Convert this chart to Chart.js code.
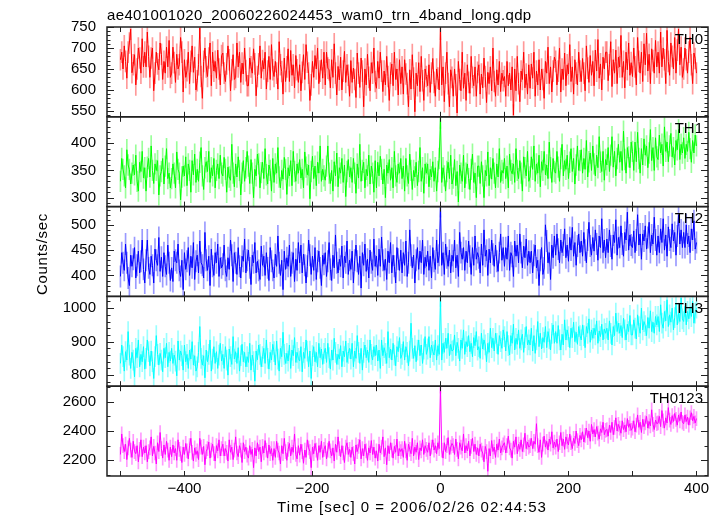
<!DOCTYPE html>
<html>
<head>
<meta charset="utf-8">
<script src="https://cdn.jsdelivr.net/npm/chart.js@4.4.0/dist/chart.umd.min.js"></script>
<style>
    html, body { margin: 0; padding: 0; background: #fff; }
    #wrap { position: relative; width: 723px; height: 516px; }
</style>
</head>
<body>
<div id="wrap"><canvas id="lc" width="723" height="516"></canvas></div>
<script>
// WAM light curve, one sample every 2 s from -500 s to +400 s
const tStart = -500;
const tStep = 2;

const th0 = [
    672, 690, 650, 705, 668, 628, 690, 712, 745, 641, 660, 684, 612, 650, 700, 676, 640, 722, 655, 690,
    655, 738, 680, 630, 676, 700, 598, 640, 690, 662, 648, 712, 685, 625, 668, 640, 702, 655, 718, 630,
    640, 702, 665, 618, 685, 650, 660, 725, 690, 595, 672, 630, 646, 690, 615, 668, 705, 642, 678, 600,
    622, 660, 748, 632, 580, 668, 700, 655, 632, 676, 712, 610, 690, 645, 668, 628, 695, 650, 612, 682,
    688, 640, 620, 662, 705, 672, 598, 648, 684, 625, 630, 712, 655, 690, 618, 664, 638, 700, 646, 610,
    610, 676, 655, 640, 698, 662, 586, 632, 662, 705, 628, 670, 650, 690, 602, 645, 680, 625, 708, 648,
    632, 668, 640, 602, 715, 660, 644, 590, 676, 620, 655, 698, 620, 694, 635, 660, 605, 682, 648, 618,
    660, 598, 642, 684, 625, 708, 666, 640, 575, 612, 668, 630, 682, 650, 700, 615, 645, 672, 628, 690,
    612, 690, 652, 648, 605, 672, 630, 710, 640, 588, 656, 624, 678, 600, 645, 692, 618, 660, 635, 585,
    670, 618, 652, 625, 582, 688, 640, 606, 676, 645, 560, 650, 612, 685, 630, 598, 665, 640, 700, 620,
    604, 668, 628, 690, 645, 596, 645, 612, 680, 632, 575, 640, 662, 610, 690, 625, 650, 588, 672, 615,
    655, 590, 672, 638, 615, 560, 648, 602, 684, 628, 548, 640, 610, 665, 596, 680, 622, 575, 650, 632,
    610, 660, 594, 640, 675, 618, 585, 650, 628, 600, 745, 612, 655, 572, 640, 690, 615, 560, 648, 630,
    585, 650, 612, 545, 668, 625, 598, 690, 604, 640, 575, 660, 618, 592, 680, 630, 610, 655, 585, 642,
    660, 590, 638, 605, 676, 632, 570, 642, 615, 655, 598, 700, 620, 585, 648, 612, 668, 596, 640, 622,
    632, 585, 668, 610, 640, 600, 655, 540, 650, 598, 680, 615, 572, 645, 625, 690, 605, 638, 590, 660,
    604, 662, 628, 690, 585, 645, 612, 672, 600, 650, 625, 580, 668, 640, 702, 615, 655, 595, 645, 678,
    668, 612, 645, 700, 595, 650, 625, 688, 610, 660, 638, 708, 620, 655, 590, 672, 640, 612, 690, 645,
    620, 675, 640, 598, 705, 652, 618, 682, 635, 668, 610, 695, 645, 720, 628, 662, 600, 678, 650, 690,
    690, 622, 660, 715, 608, 672, 640, 695, 615, 678, 655, 730, 630, 668, 605, 690, 648, 712, 635, 665,
    632, 700, 655, 612, 725, 668, 640, 690, 620, 710, 660, 735, 645, 685, 615, 698, 670, 640, 718, 655,
    690, 640, 738, 655, 700, 672, 615, 742, 668, 635, 712, 680, 650, 725, 640, 695, 745, 660, 702, 630,
    650, 700, 672, 640, 690, 725, 660, 615, 688, 675, 640
];

const th1 = [
    330, 372, 352, 340, 318, 388, 360, 352, 325, 345, 360, 342, 378, 330, 312, 365, 348, 385, 336, 355,
    312, 356, 372, 338, 395, 350, 326, 362, 350, 368, 305, 340, 348, 372, 325, 358, 390, 335, 345, 318,
    335, 362, 345, 318, 384, 352, 345, 296, 338, 358, 340, 375, 322, 362, 350, 310, 368, 342, 380, 328,
    352, 330, 365, 392, 340, 315, 355, 366, 348, 385, 328, 355, 340, 372, 318, 350, 362, 335, 378, 345,
    340, 374, 352, 310, 356, 338, 332, 398, 345, 320, 362, 338, 375, 350, 305, 345, 368, 330, 355, 385,
    358, 326, 370, 345, 300, 352, 340, 380, 362, 318, 346, 365, 335, 390, 342, 325, 360, 350, 312, 372,
    328, 362, 345, 392, 338, 318, 350, 334, 374, 352, 306, 355, 340, 368, 322, 385, 348, 330, 362, 345,
    370, 336, 352, 318, 384, 356, 342, 360, 298, 348, 376, 335, 358, 322, 365, 345, 395, 330, 352, 340,
    332, 358, 395, 345, 326, 350, 312, 366, 340, 382, 320, 355, 345, 372, 328, 360, 302, 348, 370, 338,
    355, 328, 372, 345, 308, 362, 336, 398, 330, 350, 365, 318, 352, 340, 378, 325, 358, 345, 310, 368,
    318, 365, 340, 376, 352, 325, 352, 300, 360, 345, 370, 332, 355, 318, 385, 340, 328, 362, 345, 372,
    335, 358, 312, 372, 340, 326, 380, 350, 315, 350, 338, 365, 322, 348, 392, 330, 355, 308, 362, 345,
    362, 320, 352, 338, 366, 330, 355, 312, 348, 372, 446, 328, 355, 340, 312, 348, 365, 335, 378, 325,
    336, 370, 322, 348, 292, 360, 345, 330, 378, 318, 345, 362, 335, 315, 352, 380, 328, 345, 300, 358,
    358, 326, 366, 340, 300, 350, 340, 384, 322, 355, 334, 372, 345, 318, 362, 338, 390, 328, 350, 345,
    372, 335, 358, 318, 380, 350, 344, 362, 328, 390, 350, 335, 368, 345, 312, 375, 355, 340, 385, 330,
    338, 375, 352, 395, 330, 362, 345, 378, 320, 366, 350, 385, 342, 360, 335, 402, 355, 328, 372, 348,
    345, 385, 356, 330, 372, 398, 340, 368, 352, 378, 335, 365, 390, 348, 372, 325, 360, 395, 350, 368,
    388, 345, 372, 352, 405, 338, 366, 382, 350, 395, 362, 340, 378, 355, 412, 365, 348, 385, 332, 370,
    360, 392, 348, 378, 412, 356, 385, 340, 372, 398, 365, 385, 350, 422, 370, 345, 392, 375, 355, 402,
    385, 350, 402, 366, 420, 372, 345, 390, 360, 408, 378, 395, 355, 382, 425, 368, 392, 350, 410, 375,
    370, 415, 382, 398, 358, 430, 385, 402, 366, 395, 418, 375, 392, 360, 405, 388, 425, 370, 398, 382,
    410, 372, 398, 385, 420, 390, 365, 405, 382, 415, 395
];

const th2 = [
    398, 445, 425, 410, 462, 425, 395, 380, 440, 418, 432, 455, 395, 420, 448, 405, 428, 470, 412, 385,
    430, 470, 415, 402, 438, 420, 385, 452, 430, 420, 475, 408, 436, 398, 445, 418, 402, 460, 425, 390,
    415, 388, 448, 430, 425, 462, 410, 398, 430, 372, 445, 412, 428, 455, 400, 438, 415, 465, 392, 428,
    440, 405, 468, 425, 420, 395, 485, 430, 410, 438, 380, 452, 418, 400, 445, 425, 462, 398, 435, 415,
    422, 460, 410, 398, 435, 412, 470, 440, 388, 445, 425, 402, 455, 418, 395, 438, 428, 472, 405, 430,
    450, 415, 382, 440, 425, 465, 405, 428, 410, 392, 458, 420, 438, 400, 445, 415, 390, 455, 428, 410,
    395, 442, 418, 478, 425, 400, 430, 372, 448, 412, 435, 418, 460, 398, 425, 445, 388, 432, 410, 465,
    425, 460, 405, 442, 420, 385, 418, 470, 440, 402, 438, 410, 455, 392, 428, 448, 415, 380, 440, 422,
    445, 398, 428, 465, 412, 390, 440, 415, 480, 425, 405, 432, 418, 458, 395, 438, 425, 468, 402, 430,
    412, 448, 385, 430, 460, 428, 402, 438, 375, 445, 420, 462, 408, 432, 395, 450, 425, 410, 472, 418,
    438, 400, 452, 418, 476, 430, 410, 432, 392, 448, 425, 465, 405, 440, 418, 385, 455, 432, 410, 450,
    405, 445, 420, 468, 398, 425, 490, 440, 415, 440, 385, 430, 455, 412, 448, 425, 470, 402, 436, 418,
    448, 410, 438, 395, 455, 428, 412, 470, 425, 440, 536, 420, 445, 402, 462, 435, 418, 450, 405, 440,
    428, 470, 415, 440, 398, 485, 445, 432, 455, 410, 448, 425, 468, 438, 402, 455, 420, 478, 432, 445,
    435, 405, 462, 420, 490, 438, 450, 400, 452, 425, 470, 442, 418, 460, 428, 408, 445, 482, 430, 455,
    418, 455, 432, 478, 410, 445, 438, 398, 468, 438, 460, 425, 482, 445, 415, 458, 435, 472, 420, 448,
    425, 448, 405, 440, 460, 415, 430, 380, 430, 455, 402, 415, 500, 468, 425, 445, 392, 460, 435, 478,
    440, 482, 452, 425, 470, 445, 460, 492, 435, 460, 428, 475, 450, 495, 438, 465, 420, 458, 482, 445,
    468, 438, 485, 450, 425, 470, 505, 458, 440, 475, 448, 490, 462, 430, 478, 455, 512, 445, 470, 435,
    472, 445, 490, 458, 432, 480, 465, 510, 440, 475, 455, 498, 462, 438, 485, 470, 525, 450, 480, 460,
    455, 488, 445, 470, 520, 460, 482, 432, 482, 468, 498, 452, 475, 505, 445, 480, 462, 515, 470, 440,
    478, 445, 492, 465, 512, 450, 480, 438, 496, 470, 455, 502, 468, 485, 440, 478, 520, 462, 490, 455,
    485, 455, 500, 462, 478, 445, 492, 470, 508, 452, 465
];

const th3 = [
    835, 890, 855, 812, 870, 845, 930, 860, 820, 868, 845, 795, 880, 852, 905, 825, 862, 840, 885, 818,
    850, 905, 870, 828, 872, 840, 790, 855, 918, 862, 830, 865, 845, 810, 880, 852, 895, 825, 868, 842,
    880, 835, 860, 842, 798, 902, 845, 872, 858, 815, 890, 840, 862, 820, 875, 848, 900, 830, 858, 812,
    825, 868, 945, 850, 830, 858, 792, 875, 840, 862, 905, 812, 848, 885, 835, 870, 820, 860, 895, 842,
    862, 820, 885, 845, 800, 878, 855, 832, 915, 848, 870, 835, 882, 812, 858, 892, 840, 868, 825, 855,
    838, 895, 815, 860, 840, 782, 872, 846, 890, 862, 825, 855, 880, 835, 905, 850, 818, 868, 845, 892,
    870, 830, 902, 848, 812, 880, 855, 928, 862, 835, 865, 842, 890, 820, 875, 858, 912, 838, 868, 850,
    842, 885, 810, 868, 850, 905, 872, 825, 872, 790, 858, 885, 840, 868, 825, 895, 852, 878, 832, 865,
    880, 838, 895, 852, 818, 875, 845, 910, 868, 832, 862, 848, 888, 825, 872, 855, 902, 838, 865, 880,
    848, 895, 825, 872, 850, 918, 868, 835, 880, 815, 868, 890, 852, 875, 838, 905, 862, 845, 885, 858,
    890, 842, 875, 820, 905, 858, 882, 865, 835, 930, 852, 878, 845, 895, 860, 828, 885, 870, 912, 850,
    862, 900, 845, 885, 868, 828, 872, 955, 880, 850, 888, 840, 875, 905, 858, 890, 835, 878, 915, 862,
    878, 915, 852, 890, 870, 860, 905, 845, 888, 862, 1035, 845, 895, 868, 910, 880, 925, 858, 892, 872,
    875, 920, 858, 898, 880, 842, 905, 880, 935, 862, 900, 885, 918, 870, 895, 855, 912, 888, 930, 875,
    885, 850, 925, 878, 905, 890, 840, 895, 868, 940, 882, 910, 872, 925, 895, 862, 918, 900, 880, 935,
    915, 872, 930, 888, 860, 918, 895, 952, 875, 910, 892, 935, 880, 905, 922, 868, 912, 945, 890, 905,
    890, 940, 872, 918, 865, 905, 960, 885, 925, 878, 912, 898, 945, 882, 930, 908, 875, 925, 950, 895,
    930, 895, 948, 905, 875, 922, 890, 965, 905, 935, 915, 882, 940, 912, 958, 900, 928, 892, 945, 918,
    905, 950, 918, 882, 945, 925, 968, 898, 935, 910, 940, 920, 962, 895, 932, 915, 952, 905, 938, 925,
    940, 905, 962, 925, 890, 945, 918, 985, 930, 955, 925, 948, 912, 970, 935, 905, 952, 930, 978, 920,
    920, 965, 940, 908, 980, 945, 925, 1000, 935, 960, 948, 918, 972, 940, 992, 930, 958, 925, 975, 950,
    975, 930, 1010, 955, 940, 990, 962, 1025, 945, 980, 958, 1000, 935, 972, 1015, 950, 985, 960, 1030, 968,
    960, 1005, 950, 990, 968, 1000, 975, 1020, 955, 985, 1000
];

const th0123 = [
    2240, 2380, 2300, 2260, 2310, 2205, 2285, 2350, 2270, 2220, 2330, 2260, 2245, 2300, 2190, 2275, 2340, 2225, 2290, 2250,
    2300, 2190, 2260, 2285, 2360, 2230, 2295, 2250, 2175, 2320, 2260, 2390, 2280, 2215, 2305, 2240, 2330, 2270, 2200, 2290,
    2225, 2305, 2250, 2280, 2200, 2340, 2275, 2245, 2185, 2290, 2240, 2315, 2265, 2210, 2300, 2350, 2255, 2195, 2285, 2240,
    2265, 2205, 2350, 2290, 2240, 2295, 2170, 2260, 2280, 2325, 2215, 2270, 2310, 2245, 2195, 2300, 2265, 2340, 2230, 2280,
    2310, 2230, 2280, 2255, 2195, 2340, 2255, 2290, 2205, 2270, 2360, 2250, 2225, 2300, 2270, 2185, 2320, 2260, 2290, 2235,
    2215, 2300, 2240, 2275, 2150, 2285, 2230, 2320, 2260, 2290, 2190, 2295, 2250, 2335, 2270, 2215, 2305, 2245, 2280, 2200,
    2280, 2220, 2330, 2270, 2250, 2175, 2300, 2245, 2350, 2260, 2200, 2275, 2315, 2230, 2290, 2255, 2380, 2240, 2210, 2300,
    2235, 2310, 2260, 2180, 2270, 2220, 2340, 2285, 2260, 2150, 2290, 2245, 2315, 2270, 2200, 2300, 2255, 2330, 2220, 2275,
    2300, 2210, 2270, 2330, 2265, 2230, 2285, 2195, 2310, 2255, 2360, 2280, 2225, 2300, 2250, 2185, 2290, 2320, 2240, 2275,
    2220, 2290, 2245, 2175, 2305, 2260, 2295, 2340, 2210, 2280, 2230, 2310, 2265, 2200, 2285, 2250, 2335, 2240, 2290, 2215,
    2265, 2195, 2310, 2250, 2290, 2360, 2225, 2285, 2170, 2300, 2245, 2320, 2270, 2215, 2295, 2255, 2345, 2230, 2280, 2260,
    2280, 2220, 2330, 2265, 2200, 2310, 2275, 2245, 2350, 2230, 2290, 2255, 2320, 2205, 2285, 2265, 2340, 2240, 2300, 2275,
    2255, 2320, 2230, 2290, 2340, 2270, 2300, 2245, 2320, 2280, 2706, 2270, 2215, 2320, 2260, 2300, 2355, 2240, 2290, 2315,
    2300, 2240, 2345, 2275, 2210, 2320, 2290, 2265, 2380, 2250, 2300, 2265, 2330, 2230, 2295, 2350, 2260, 2310, 2240, 2285,
    2230, 2310, 2270, 2250, 2190, 2295, 2260, 2125, 2280, 2230, 2335, 2260, 2290, 2220, 2310, 2270, 2345, 2250, 2285, 2305,
    2320, 2250, 2300, 2365, 2285, 2270, 2215, 2330, 2290, 2360, 2245, 2310, 2275, 2340, 2260, 2305, 2385, 2280, 2325, 2290,
    2300, 2350, 2280, 2330, 2310, 2450, 2300, 2255, 2340, 2220, 2310, 2365, 2290, 2330, 2270, 2345, 2310, 2395, 2285, 2325,
    2290, 2345, 2260, 2320, 2390, 2300, 2345, 2275, 2360, 2330, 2305, 2380, 2320, 2280, 2350, 2315, 2400, 2335, 2300, 2370,
    2340, 2395, 2325, 2370, 2420, 2355, 2400, 2330, 2445, 2380, 2410, 2360, 2430, 2385, 2345, 2415, 2390, 2460, 2375, 2405,
    2410, 2365, 2440, 2390, 2460, 2375, 2425, 2490, 2400, 2445, 2420, 2385, 2470, 2410, 2440, 2395, 2485, 2425, 2450, 2405,
    2420, 2470, 2395, 2440, 2510, 2425, 2460, 2390, 2480, 2430, 2455, 2500, 2420, 2465, 2435, 2545, 2445, 2410, 2475, 2450,
    2455, 2500, 2430, 2540, 2470, 2420, 2490, 2455, 2560, 2475, 2445, 2505, 2465, 2520, 2480, 2440, 2510, 2470, 2530, 2460,
    2450, 2510, 2465, 2495, 2440, 2490, 2525, 2470, 2500, 2455, 2485
];

// typical 1-sigma error bar for each band (counts/sec)
const bandErrors = [25, 19, 21, 30, 48];

const bandNames = ['TH0', 'TH1', 'TH2', 'TH3', 'TH0123'];
const bandColors = ['#ff0000', '#00ff00', '#0000ff', '#00ffff', '#ff00ff'];
const errColors = ['rgba(255,0,0,0.4)', 'rgba(0,255,0,0.4)', 'rgba(0,0,255,0.4)', 'rgba(0,255,255,0.4)', 'rgba(255,0,255,0.4)'];

// axis ranges and tick spacing per panel
const yMins = [536, 283.6, 358.6, 767, 2093];
const yMaxs = [750, 448.5, 536, 1035, 2706];
const yLabelSteps = [50, 50, 50, 100, 200];
const yMinorSteps = [10, 10, 10, 20, 100];
const xMin = -521;
const xMax = 418;

const FONT = "'Liberation Sans', Arial, Helvetica, sans-serif";

function isMult(v, step) {
    return Math.abs(v / step - Math.round(v / step)) < 1e-6;
}

const series = [th0, th1, th2, th3, th0123];

const datasets = [];
series.forEach((vals, k) => {
    datasets.push({
        type: 'line',
        label: bandNames[k],
        yAxisID: 'y' + k,
        data: vals.map((v, i) => ({ x: tStart + i * tStep, y: v })),
        borderColor: bandColors[k],
        borderWidth: 1,
        pointRadius: 0,
        tension: 0,
        fill: false,
        order: 0
    });
});
series.forEach((vals, k) => {
    const e = bandErrors[k];
    datasets.push({
        type: 'bar',
        label: bandNames[k] + ' err',
        yAxisID: 'y' + k,
        data: vals.map((v, i) => ({ x: tStart + i * tStep, y: [v - e, v + e] })),
        backgroundColor: errColors[k],
        barThickness: 1,
        grouped: false,
        order: 1
    });
});

const scales = {
    x: {
        type: 'linear',
        position: 'bottom',
        offset: false,
        min: xMin,
        max: xMax,
        grid: { display: false, drawTicks: false, offset: false },
        border: { display: false },
        ticks: {
            stepSize: 100,
            includeBounds: false,
            autoSkip: false,
            maxRotation: 0,
            padding: 4,
            color: '#000',
            font: { family: FONT, size: 15 },
            callback: v => isMult(v, 200) ? (v < 0 ? '\u2212' + Math.abs(v) : String(v)) : ''
        },
        title: { display: false },
        afterFit: s => { s.height = 40; }
    }
};
series.forEach((_, k) => {
    scales['y' + k] = {
        type: 'linear',
        position: 'left',
        stack: 'lc',
        stackWeight: 1,
        weight: 5 - k,
        min: yMins[k],
        max: yMaxs[k],
        grid: { display: false, drawTicks: false },
        border: { display: false },
        ticks: {
            stepSize: yMinorSteps[k],
            includeBounds: false,
            autoSkip: false,
            padding: 11,
            color: '#000',
            font: { family: FONT, size: 15 },
            callback: v => isMult(v, yLabelSteps[k]) ? String(v) : ''
        },
        afterFit: s => { s.width = 107; }
    };
});

// clip each series to its own panel, then draw frames, inner ticks and texts
const panelPlugin = {
    id: 'panels',
    beforeDatasetDraw(chart, args) {
        const ys = chart.scales[args.meta.yAxisID];
        const a = chart.chartArea;
        chart.ctx.save();
        chart.ctx.beginPath();
        chart.ctx.rect(a.left, ys.top, a.right - a.left, ys.bottom - ys.top);
        chart.ctx.clip();
    },
    afterDatasetDraw(chart) {
        chart.ctx.restore();
    },
    afterDraw(chart) {
        const ctx = chart.ctx;
        const a = chart.chartArea;
        const xs = chart.scales.x;
        ctx.save();
        ctx.strokeStyle = '#222';
        ctx.fillStyle = '#000';
        for (let k = 0; k < bandNames.length; k++) {
            const ys = chart.scales['y' + k];
            const major = k < 3 ? 50 : yLabelSteps[k];
            ctx.lineWidth = 1;
            ctx.beginPath();
            ys.ticks.forEach(t => {
                if (!isMult(t.value, yMinorSteps[k])) return;
                const y = Math.round(ys.getPixelForValue(t.value)) + 0.5;
                const len = isMult(t.value, major) ? 7 : 3.5;
                ctx.moveTo(a.left, y); ctx.lineTo(a.left + len, y);
                ctx.moveTo(a.right, y); ctx.lineTo(a.right - len, y);
            });
            xs.ticks.forEach(t => {
                const x = Math.round(xs.getPixelForValue(t.value)) + 0.5;
                ctx.moveTo(x, ys.top); ctx.lineTo(x, ys.top + 5);
                ctx.moveTo(x, ys.bottom); ctx.lineTo(x, ys.bottom - 5);
            });
            ctx.stroke();

            ctx.lineWidth = 1.5;
            ctx.strokeRect(a.left, ys.top, a.right - a.left, ys.bottom - ys.top);

            ctx.font = '15px ' + FONT;
            ctx.textAlign = 'right';
            ctx.textBaseline = 'alphabetic';
            ctx.fillText(bandNames[k], a.right - 5, ys.top + 16.5);
        }

        // plot title
        ctx.textAlign = 'left';
        ctx.letterSpacing = '0.35px';
        ctx.fillText('ae401001020_20060226024453_wam0_trn_4band_long.qdp', a.left, 20);

        // x axis title
        ctx.textAlign = 'center';
        ctx.letterSpacing = '1px';
        ctx.fillText('Time [sec] 0 = 2006/02/26 02:44:53', 412, 512);

        // y axis title
        ctx.letterSpacing = '0.7px';
        ctx.translate(47, 254);
        ctx.rotate(-Math.PI / 2);
        ctx.fillText('Counts/sec', 0, 0);
        ctx.restore();
    }
};

new Chart(document.getElementById('lc'), {
    data: { datasets },
    options: {
        responsive: false,
        devicePixelRatio: 1,
        animation: false,
        layout: { padding: { left: 0, top: 27, right: 15, bottom: 0 } },
        plugins: { legend: { display: false }, tooltip: { enabled: false } },
        scales
    },
    plugins: [panelPlugin]
});
</script>
</body>
</html>
